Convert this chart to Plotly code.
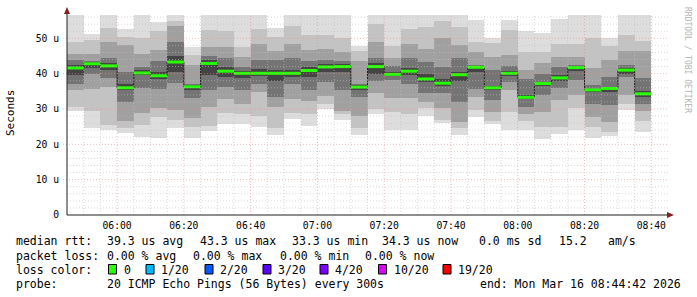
import plotly.graph_objects as go
import pandas as pd

# ---------------- data (µs) ----------------
starts = pd.date_range("2026-03-16 05:45", periods=35, freq="5min")
step_ms = 300000

median = [41.6, 42.8, 42.2, 36.0, 40.2, 39.4, 43.3, 36.3, 42.9, 40.7, 40.1, 40.1, 40.1, 40.1, 40.9,
          41.9, 42.0, 36.2, 42.0, 39.8, 40.7, 38.5, 37.3, 39.7, 41.8, 36.0, 40.1, 33.3, 37.2, 38.8,
          41.7, 35.4, 35.8, 41.0, 34.3]

# smoke: nested bands, outer (band 0) to inner (band 4): low edges and high edges
low0 = [29.5, 24.7, 24.1, 23.1, 22.2, 21.9, 24.7, 21.7, 23.7, 25.8, 25.8, 25.0, 22.5, 27.2, 25.3,
        30.0, 26.8, 22.7, 28.5, 24.1, 24.1, 28.1, 26.0, 22.6, 27.8, 25.7, 24.1, 24.1, 21.4, 22.8,
        24.1, 21.8, 22.3, 29.7, 23.4]
low1 = [30.5, 29.4, 25.5, 24.5, 25.5, 27.8, 27.0, 25.0, 25.2, 28.8, 28.5, 28.0, 24.5, 29.0, 28.5,
        31.5, 28.5, 24.5, 30.0, 29.2, 28.5, 30.2, 27.0, 24.5, 29.7, 26.5, 29.2, 26.5, 25.0, 25.0,
        30.2, 25.0, 23.5, 31.5, 26.5]
low2 = [35.4, 35.8, 36.3, 26.5, 28.8, 30.2, 29.8, 27.4, 30.5, 32.7, 31.3, 34.8, 30.5, 32.9, 32.3,
        33.8, 29.3, 28.0, 34.5, 33.0, 33.0, 32.1, 30.2, 26.4, 33.5, 29.2, 35.3, 28.5, 29.2, 32.5,
        33.9, 27.8, 26.3, 34.0, 29.3]
low3 = [37.2, 39.9, 38.7, 32.1, 36.0, 35.8, 37.4, 33.0, 35.5, 36.3, 35.5, 37.0, 33.5, 37.2, 35.5,
        37.5, 35.4, 33.5, 38.0, 38.2, 37.2, 34.4, 34.6, 32.1, 35.8, 32.5, 37.5, 30.5, 34.0, 35.9,
        38.2, 31.5, 31.0, 39.1, 31.3]
low4 = [39.5, 41.5, 41.0, 35.5, 39.5, 38.5, 40.5, 35.5, 39.5, 39.0, 38.8, 39.3, 38.0, 39.1, 39.0,
        40.5, 40.5, 35.4, 40.0, 39.2, 39.5, 37.5, 36.5, 38.0, 40.5, 35.4, 39.4, 32.8, 36.6, 38.0,
        40.8, 34.8, 34.8, 40.0, 33.5]
high4 = [42.5, 43.2, 43.0, 37.2, 41.0, 40.5, 45.0, 36.8, 43.8, 41.8, 40.8, 41.2, 41.0, 41.0, 42.0,
         42.8, 42.8, 36.8, 43.0, 40.5, 41.6, 39.8, 38.5, 40.5, 42.2, 36.5, 40.8, 34.0, 37.7, 39.6,
         42.2, 35.8, 36.3, 41.5, 35.0]
high3 = [43.8, 43.5, 44.5, 40.5, 42.0, 43.5, 49.1, 37.2, 45.0, 44.5, 42.0, 44.0, 43.8, 44.5, 43.5,
         44.0, 43.5, 37.2, 44.5, 42.2, 44.3, 43.2, 42.0, 44.3, 42.5, 41.0, 42.3, 38.5, 40.0, 42.0,
         42.5, 36.8, 39.0, 42.5, 38.7]
high2 = [45.7, 45.7, 49.0, 48.0, 45.7, 46.8, 53.5, 42.4, 47.5, 47.5, 44.7, 48.5, 46.5, 48.3, 46.6,
         47.1, 46.0, 43.5, 49.0, 44.5, 48.5, 47.0, 50.0, 48.0, 46.2, 44.8, 45.2, 41.0, 42.9, 44.8,
         44.8, 41.5, 44.0, 46.3, 46.3]
high1 = [49.0, 49.5, 53.0, 50.5, 50.0, 52.0, 55.0, 45.4, 52.4, 52.0, 47.5, 52.5, 50.5, 53.5, 51.0,
         51.0, 50.2, 46.5, 54.0, 47.8, 52.6, 53.1, 55.0, 53.2, 49.0, 48.6, 52.3, 46.0, 46.2, 48.5,
         48.5, 50.0, 47.8, 51.0, 49.2]
high0 = [56.5, 51.1, 56.5, 52.6, 56.5, 54.5, 56.5, 47.5, 56.5, 56.5, 56.5, 56.5, 52.8, 56.5, 56.5,
         56.5, 56.5, 47.9, 56.5, 56.5, 56.5, 56.5, 56.5, 56.5, 55.1, 50.0, 55.1, 52.0, 51.4, 55.6,
         56.5, 56.5, 50.2, 56.5, 56.5]

y_ticks = [0, 10, 20, 30, 40, 50]
y_ticktext = ["0", "10 u", "20 u", "30 u", "40 u", "50 u"]

loss_labels = ["0", "1/20", "2/20", "3/20", "4/20", "10/20", "19/20"]
loss_colors = ["#26ff00", "#00b8ff", "#0059ff", "#5e00ff", "#7e00ff", "#dd00ff", "#ff0000"]

# ---------------- layout geometry ----------------
W, H = 697, 297
L, R, T, B = 67, 29, 15, 82
PW, PH = W - L - R, H - T - B
YMAX = 56.6
t0 = starts[0]
t_end = t0 + pd.Timedelta(minutes=180)


def px(x):
    return (x - L) / PW


def py(y):
    return (T + PH - y) / PH


shades = ["#dddddd", "#c3c3c3", "#a0a0a0", "#747474", "#444444"]
lows = [low0, low1, low2, low3, low4]
highs = [high0, high1, high2, high3, high4]

fig = go.Figure()
for lo, hi, col in zip(lows, highs, shades):
    fig.add_trace(go.Bar(
        x=starts, base=lo, y=[h - l for h, l in zip(hi, lo)],
        width=step_ms, offset=0,
        marker=dict(color=col, line=dict(width=0)),
        hoverinfo="skip", showlegend=False))

ends = [s + pd.Timedelta(minutes=5) for s in starts]
fig.add_trace(go.Scatter(
    x=list(starts) + [ends[-1]], y=median + [median[-1]], mode="lines",
    line=dict(shape="hv", color="#202020", width=1), hoverinfo="skip", showlegend=False))

gx, gy = [], []
for s, e, m in zip(starts, ends, median):
    gx += [s, e, None]
    gy += [m, m, None]
fig.add_trace(go.Scatter(x=gx, y=gy, mode="lines", line=dict(color="#26ff00", width=3),
                         hoverinfo="skip", showlegend=False))

shapes = []
minor_c = "rgba(192,192,192,0.6)"
major_c = "rgba(240,140,140,0.6)"
# vertical grid every 5 min, major every 20 min
for k in range(1, 36):
    t = t0 + pd.Timedelta(minutes=5 * k)
    major = (t.minute % 20 == 0)
    shapes.append(dict(type="line", xref="x", yref="paper", x0=t, x1=t, y0=0, y1=1, layer="above",
                       line=dict(color=major_c if major else minor_c, width=1, dash="1px,2px")))
# horizontal grid every 2 u, major every 10 u
for v in range(2, 57, 2):
    major = (v % 10 == 0)
    shapes.append(dict(type="line", xref="paper", yref="y", x0=px(63) if major else 0, x1=1, y0=v, y1=v,
                       layer="above",
                       line=dict(color=major_c if major else minor_c, width=1, dash="1px,2px")))
# axes
shapes.append(dict(type="line", xref="paper", yref="paper", x0=0, x1=1.003, y0=0, y1=0, layer="above",
                   line=dict(color="#202020", width=1)))
shapes.append(dict(type="line", xref="paper", yref="paper", x0=0, x1=0, y0=0, y1=py(12), layer="above",
                   line=dict(color="#202020", width=1)))
# arrows
shapes.append(dict(type="path", xref="paper", yref="paper", layer="above",
                   path=f"M {px(667)} {py(212)} L {px(674)} {py(215)} L {px(667)} {py(218)} Z",
                   fillcolor="#8b1a1a", line=dict(width=0)))
shapes.append(dict(type="path", xref="paper", yref="paper", layer="above",
                   path=f"M {px(64)} {py(14)} L {px(67)} {py(7)} L {px(70)} {py(14)} Z",
                   fillcolor="#8b1a1a", line=dict(width=0)))

ann = []
FONT = "DejaVu Sans Mono"


def txt(x, y, s, size=11.5, color="#000000", angle=0, xa="left"):
    ann.append(dict(xref="paper", yref="paper", x=px(x), y=py(y), text=s, showarrow=False,
                    xanchor=xa, yanchor="middle", textangle=angle, borderpad=0, borderwidth=0,
                    font=dict(family=FONT, size=size, color=color)))


r1, r2, r3, r4 = 241, 255.5, 269.5, 284
txt(16, r1, "median rtt:")
for x, s in [(107, "39.3 us avg"), (199.5, "43.3 us max"), (291.5, "33.3 us min"),
             (382, "34.3 us now"), (479.5, "0.0 ms sd"), (559, "15.2"), (607.5, "am/s")]:
    txt(x, r1, s)
txt(16, r2, "packet loss:")
for x, s in [(107, "0.00 % avg"), (193, "0.00 % max"), (279.5, "0.00 % min"), (365, "0.00 % now")]:
    txt(x, r2, s)
txt(16, r3, "loss color:")
box_x = [108.5, 146, 205, 263, 320, 378.5, 443]
for bx, lab, col in zip(box_x, loss_labels, loss_colors):
    shapes.append(dict(type="rect", xref="paper", yref="paper", x0=px(bx), x1=px(bx + 8),
                       y0=py(274), y1=py(264.5), fillcolor=col, line=dict(color="#000000", width=1)))
    txt(bx + 15, r3, lab)
txt(16, r4, "probe:")
txt(107, r4, "20 ICMP Echo Pings (56 Bytes) every 300s")
txt(681, r4, "end: Mon Mar 16 08:44:42 2026", xa="right")

txt(10, 113, "Seconds", size=11, angle=-90, xa="center")
ann.append(dict(xref="paper", yref="paper", x=px(687), y=py(60), text="RRDTOOL / TOBI OETIKER",
                showarrow=False, xanchor="center", yanchor="middle", textangle=90,
                font=dict(family=FONT, size=8, color="#b4b4b4")))

major_ticks = [t0 + pd.Timedelta(minutes=15 + 20 * k) for k in range(9)]

fig.update_layout(
    width=W, height=H, margin=dict(l=L, r=R, t=T, b=B, pad=0),
    paper_bgcolor="#ffffff", plot_bgcolor="#ffffff",
    barmode="overlay", bargap=0, showlegend=False,
    shapes=shapes, annotations=ann,
    xaxis=dict(type="date", range=[t0, t_end], showgrid=False, zeroline=False, showline=False,
               tickvals=major_ticks, tickformat="%H:%M", ticks="", ticklabelstandoff=3,
               tickfont=dict(family=FONT, size=9.7, color="#000000"), fixedrange=True),
    yaxis=dict(range=[0, YMAX], showgrid=False, zeroline=False, showline=False,
               tickvals=y_ticks, ticktext=y_ticktext, ticks="", ticklabelstandoff=7,
               tickfont=dict(family=FONT, size=9.7, color="#000000"), fixedrange=True),
)

fig.write_html("out.html")
